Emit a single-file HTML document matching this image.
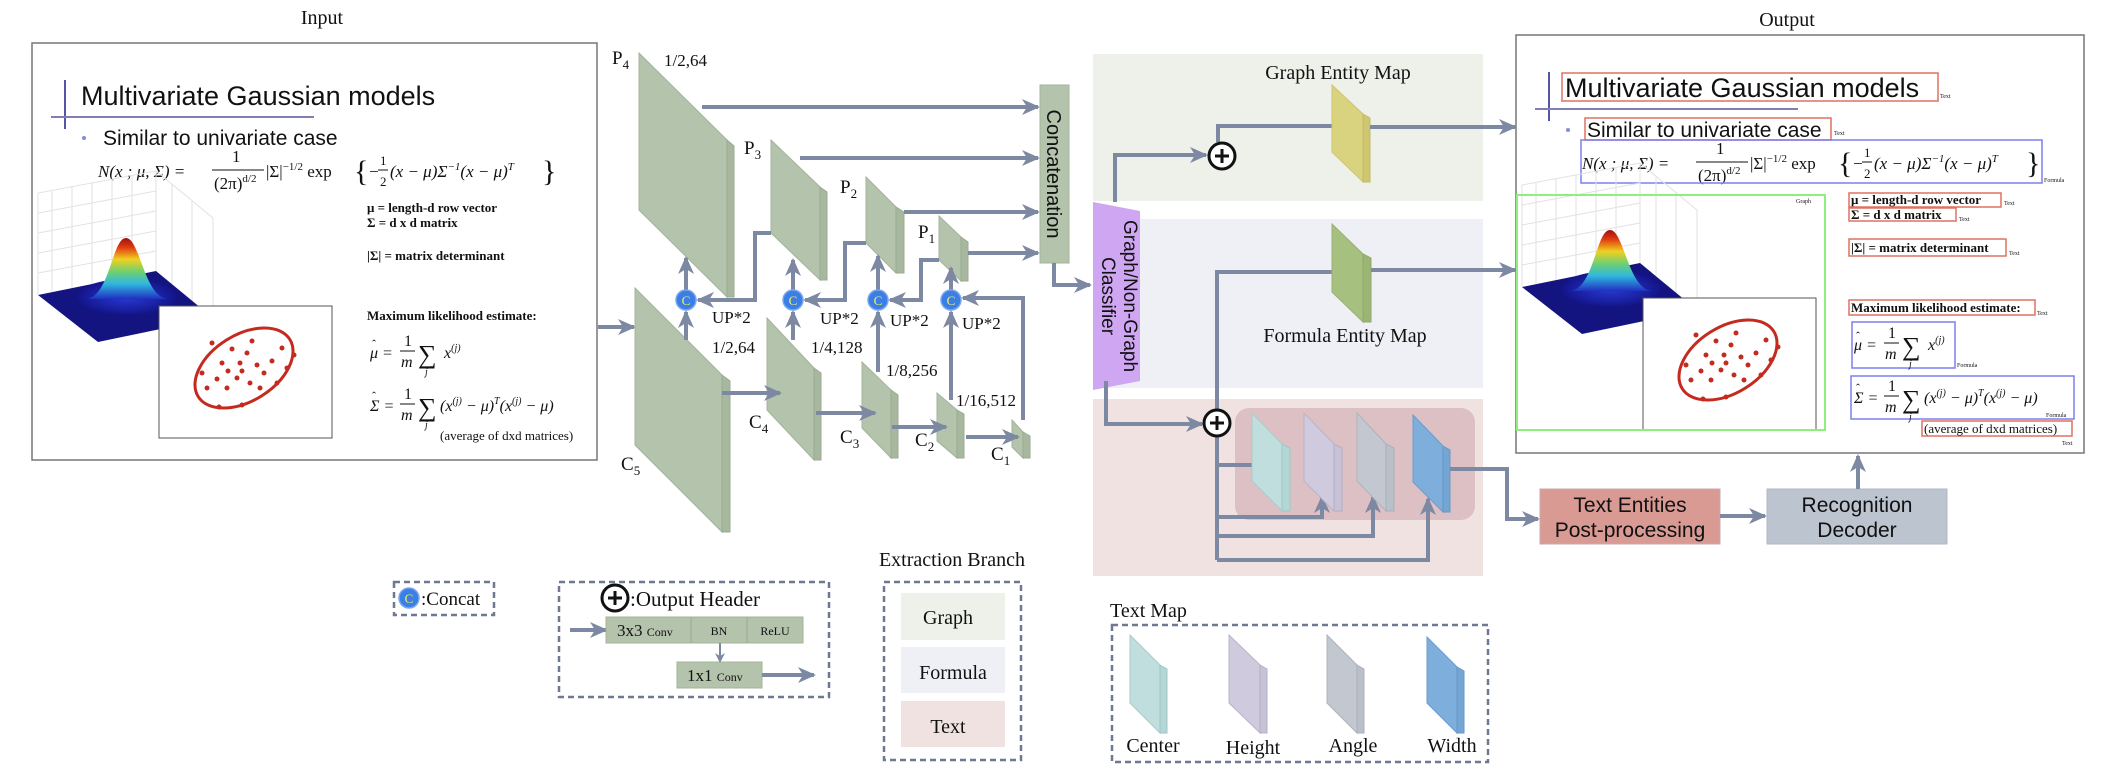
<!DOCTYPE html>
<html><head><meta charset="utf-8"><style>
html,body{margin:0;padding:0;background:#fff;}
svg{display:block;}
.s{font-family:"Liberation Serif",serif;fill:#111;}
.a{font-family:"Liberation Sans",sans-serif;fill:#111;}
.ar{stroke:#7d88a2;stroke-width:4;fill:none;marker-end:url(#ah);}
.ln{stroke:#7d88a2;stroke-width:4;fill:none;}
.fr{fill:#b4c3ab;stroke:#a3b49b;stroke-width:1;}
.sd{fill:#a7b89f;stroke:#98ab90;stroke-width:1;}
</style></head><body>
<svg width="2102" height="776" viewBox="0 0 2102 776" xmlns="http://www.w3.org/2000/svg">
<defs>
<marker id="ah" markerUnits="userSpaceOnUse" markerWidth="18" markerHeight="16" viewBox="0 0 18 16" refX="16" refY="8" orient="auto">
<path d="M0,0 L18,8 L0,16 L5,8 z" fill="#7d88a2"/></marker>
<marker id="ah2" markerUnits="userSpaceOnUse" markerWidth="10" markerHeight="10" viewBox="0 0 10 10" refX="9" refY="5" orient="auto">
<path d="M0,0 L10,5 L0,10 L3,5 z" fill="#7d88a2"/></marker>
<linearGradient id="bell" x1="0" y1="0" x2="0" y2="1">
<stop offset="0" stop-color="#a01010"/><stop offset="0.15" stop-color="#e03a10"/><stop offset="0.35" stop-color="#f0d020"/><stop offset="0.55" stop-color="#70d070"/><stop offset="0.75" stop-color="#30b8e0"/><stop offset="1" stop-color="#2030c0"/></linearGradient>
<radialGradient id="halo"><stop offset="0" stop-color="#2a40e0"/><stop offset="1" stop-color="#14148a"/></radialGradient>
</defs>

<!-- ===== INPUT ===== -->
<text class="s" x="322" y="24" font-size="20" text-anchor="middle">Input</text>
<g transform="translate(32,43)">
<rect x="0" y="0" width="565" height="417" fill="#fff" stroke="#777" stroke-width="1.5"/>
<line x1="33" y1="37" x2="33" y2="86" stroke="#5656a6" stroke-width="2"/>
<line x1="19" y1="74" x2="282" y2="74" stroke="#7f7fb2" stroke-width="2"/>
<text class="a" x="49" y="62" font-size="27">Multivariate Gaussian models</text>
<circle cx="52" cy="95" r="2" fill="#8090d0"/>
<text class="a" x="71" y="102" font-size="21">Similar to univariate case</text>
<g class="s" font-size="17" font-style="italic">
<text x="66" y="134">N(x ; μ, Σ) =</text>
<text x="200" y="119" font-style="normal">1</text>
<line x1="180" y1="127" x2="232" y2="127" stroke="#111"/>
<text x="182" y="146" font-style="normal">(2π)<tspan font-size="11" dy="-7">d/2</tspan></text>
<text x="234" y="134" font-style="normal">|Σ|<tspan font-size="11" dy="-7">−1/2</tspan><tspan dy="7"> exp</tspan></text>
<text x="322" y="138" font-size="30" font-style="normal">{</text>
<text x="336" y="134">−</text>
<text x="348" y="122" font-size="13" font-style="normal">1</text><line x1="346" y1="127" x2="356" y2="127" stroke="#111"/><text x="348" y="143" font-size="13" font-style="normal">2</text>
<text x="358" y="134">(x − μ)Σ<tspan font-size="11" dy="-7">−1</tspan><tspan dy="7">(x − μ)</tspan><tspan font-size="11" dy="-7">T</tspan></text>
<text x="510" y="138" font-size="30" font-style="normal">}</text>
</g>
<g class="s" font-size="13" font-weight="bold">
<text x="335" y="169">μ  = length-d row vector</text>
<text x="335" y="184">Σ = d x d matrix</text>
<text x="335" y="217">|Σ|  = matrix determinant</text>
<text x="335" y="277">Maximum likelihood estimate:</text>
</g>
<g class="s" font-size="16" font-style="italic">
<text x="338" y="315">μ =</text><text x="340" y="305" font-size="12" font-style="normal">ˆ</text>
<text x="372" y="303" font-style="normal">1</text><line x1="368" y1="308" x2="383" y2="308" stroke="#111"/><text x="369" y="324">m</text>
<text x="386" y="320" font-size="26" font-style="normal">∑</text><text x="393" y="332" font-size="10">j</text>
<text x="412" y="315">x<tspan font-size="10" dy="-7">(j)</tspan></text>
<text x="338" y="368">Σ =</text><text x="340" y="357" font-size="12" font-style="normal">ˆ</text>
<text x="372" y="356" font-style="normal">1</text><line x1="368" y1="361" x2="383" y2="361" stroke="#111"/><text x="369" y="377">m</text>
<text x="386" y="373" font-size="26" font-style="normal">∑</text><text x="393" y="385" font-size="10">j</text>
<text x="408" y="368">(x<tspan font-size="10" dy="-7">(j)</tspan><tspan dy="7"> − μ)</tspan><tspan font-size="10" dy="-7">T</tspan><tspan dy="7">(x</tspan><tspan font-size="10" dy="-7">(j)</tspan><tspan dy="7"> − μ)</tspan></text>
</g>
<text class="s" x="408" y="397" font-size="13">(average of dxd matrices)</text>
<g stroke="#e2e2e2" stroke-width="1" fill="none">
<path d="M6,252 L6,150 L124,128 L124,228 M124,128 L181,175 L181,275 M20,249 L20,148 M40,245 L40,144 M60,241 L60,140 M80,237 L80,136 M100,233 L100,132 M6,170 L124,148 M6,190 L124,168 M6,210 L124,188 M6,230 L124,208 M140,141 L140,241 M160,158 L160,258"/>
</g>
<polygon points="6,252 66,299 181,275 124,228" fill="#141480"/>
<ellipse cx="95" cy="254" rx="50" ry="18" fill="url(#halo)" opacity="0.9"/>
<path d="M54,256 C78,254 80,195 94,195 C108,195 112,254 136,256 Z" fill="url(#bell)"/>
<rect x="127" y="263" width="173" height="132" fill="#fff" stroke="#555" stroke-width="1"/>
<g transform="translate(212,325) rotate(-32)">
<ellipse cx="0" cy="0" rx="54" ry="33" fill="none" stroke="#c42a1e" stroke-width="3"/>
</g>
<g fill="#c42a1e">
<circle cx="200" cy="306" r="2.5"/><circle cx="215" cy="310" r="2.5"/><circle cx="190" cy="320" r="2.5"/><circle cx="225" cy="322" r="2.5"/><circle cx="210" cy="328" r="2.5"/><circle cx="205" cy="335" r="2.5"/><circle cx="185" cy="336" r="2.5"/><circle cx="232" cy="330" r="2.5"/><circle cx="240" cy="318" r="2.5"/><circle cx="180" cy="300" r="2.5"/><circle cx="195" cy="345" r="2.5"/><circle cx="175" cy="345" r="2.5"/><circle cx="250" cy="305" r="2.5"/><circle cx="255" cy="325" r="2.5"/><circle cx="220" cy="298" r="2.5"/><circle cx="218" cy="340" r="2.5"/><circle cx="170" cy="330" r="2.5"/><circle cx="228" cy="345" r="2.5"/><circle cx="208" cy="320" r="2.5"/><circle cx="196" cy="328" r="2.5"/><circle cx="245" cy="340" r="2.5"/><circle cx="187" cy="364" r="2.5"/><circle cx="210" cy="362" r="2.5"/><circle cx="262" cy="312" r="2.5"/>
</g>
</g>
<path class="ar" d="M598,327 H634"/>

<!-- ===== FPN slabs ===== -->
<g>
<polygon class="fr" points="639,53 727,140 727,297 639,210"/><polygon class="sd" points="727,140 734,146 734,297 727,297"/>
<polygon class="fr" points="771,140 820,187 820,280 771,233"/><polygon class="sd" points="820,187 827,192 827,280 820,280"/>
<polygon class="fr" points="866,177 896,207 896,273 866,243"/><polygon class="sd" points="896,207 904,212 904,273 896,273"/>
<polygon class="fr" points="939,216 961,237 961,281 939,260"/><polygon class="sd" points="961,237 968,242 968,281 961,281"/>
<polygon class="fr" points="635,288 722,375 722,532 635,445"/><polygon class="sd" points="722,375 730,381 730,532 722,532"/>
<polygon class="fr" points="767,318 814,368 814,460 767,410"/><polygon class="sd" points="814,368 821,373 821,460 814,460"/>
<polygon class="fr" points="862,362 891,390 891,458 862,428"/><polygon class="sd" points="891,390 898,395 898,458 891,458"/>
<polygon class="fr" points="937,393 957,410 957,458 937,441"/><polygon class="sd" points="957,410 964,414 964,458 957,458"/>
<polygon class="fr" points="1012,420 1023,432 1023,458 1012,447"/><polygon class="sd" points="1023,432 1030,436 1030,458 1023,458"/>
</g>
<g class="s" font-size="19">
<text x="612" y="64">P<tspan font-size="13" dy="5">4</tspan></text>
<text x="664" y="66" font-size="17">1/2,64</text>
<text x="744" y="154">P<tspan font-size="13" dy="5">3</tspan></text>
<text x="840" y="193">P<tspan font-size="13" dy="5">2</tspan></text>
<text x="918" y="238">P<tspan font-size="13" dy="5">1</tspan></text>
<text x="621" y="470">C<tspan font-size="13" dy="5">5</tspan></text>
<text x="749" y="428">C<tspan font-size="13" dy="5">4</tspan></text>
<text x="840" y="443">C<tspan font-size="13" dy="5">3</tspan></text>
<text x="915" y="446">C<tspan font-size="13" dy="5">2</tspan></text>
<text x="991" y="460">C<tspan font-size="13" dy="5">1</tspan></text>
</g>
<g class="s" font-size="17">
<text x="712" y="323">UP*2</text><text x="820" y="324">UP*2</text><text x="890" y="326">UP*2</text><text x="962" y="329">UP*2</text>
<text x="712" y="353">1/2,64</text><text x="811" y="353">1/4,128</text><text x="886" y="376">1/8,256</text><text x="956" y="406">1/16,512</text>
</g>
<path class="ar" d="M722,393 H780"/>
<path class="ar" d="M816,413 H875"/>
<path class="ar" d="M892,427 H946"/>
<path class="ar" d="M966,437 H1018"/>
<path class="ar" d="M686,340 V312"/><path class="ar" d="M793,340 V312"/><path class="ar" d="M878,372 V312"/><path class="ar" d="M951,400 V312"/>
<path class="ar" d="M686,290 V258"/><path class="ar" d="M793,290 V260"/><path class="ar" d="M878,290 V256"/><path class="ar" d="M951,290 V268"/>
<path class="ar" d="M771,233 H755 V300 H698"/>
<path class="ar" d="M866,243 H845 V300 H805"/>
<path class="ar" d="M939,260 H921 V300 H890"/>
<path class="ar" d="M1023,420 V298 H963"/>
<path class="ar" d="M702,107 H1038"/><path class="ar" d="M800,158 H1038"/><path class="ar" d="M904,212 H1038"/><path class="ar" d="M968,253 H1038"/>
<g>
<circle cx="686" cy="300" r="10" fill="#3a7fe6" stroke="#7ba6ee" stroke-width="1.5"/><text x="686" y="305" font-family="Liberation Serif,serif" font-size="13" fill="#f5f060" text-anchor="middle">C</text>
<circle cx="793" cy="300" r="10" fill="#3a7fe6" stroke="#7ba6ee" stroke-width="1.5"/><text x="793" y="305" font-family="Liberation Serif,serif" font-size="13" fill="#f5f060" text-anchor="middle">C</text>
<circle cx="878" cy="300" r="10" fill="#3a7fe6" stroke="#7ba6ee" stroke-width="1.5"/><text x="878" y="305" font-family="Liberation Serif,serif" font-size="13" fill="#f5f060" text-anchor="middle">C</text>
<circle cx="951" cy="300" r="10" fill="#3a7fe6" stroke="#7ba6ee" stroke-width="1.5"/><text x="951" y="305" font-family="Liberation Serif,serif" font-size="13" fill="#f5f060" text-anchor="middle">C</text>
</g>
<rect x="1040" y="85" width="29" height="178" fill="#b4c3ab" stroke="#a3b49b"/>
<text class="a" transform="translate(1047,174) rotate(90)" font-size="20" text-anchor="middle" fill="#333">Concatenation</text>
<path class="ar" d="M1054,263 V285 H1090"/>

<!-- ===== branches ===== -->
<rect x="1093" y="54" width="390" height="147" fill="#eef0ea"/>
<rect x="1093" y="219" width="390" height="169" fill="#eff0f6"/>
<rect x="1093" y="399" width="390" height="177" fill="#f1e2e2"/>
<polygon points="1093,202 1140,211 1140,381 1093,390" fill="#cfa6f2"/>
<text class="a" transform="translate(1124,296) rotate(90)" font-size="19" text-anchor="middle" fill="#222">Graph/Non-Graph</text>
<text class="a" transform="translate(1102,296) rotate(90)" font-size="19" text-anchor="middle" fill="#222">Classifier</text>
<path class="ar" d="M1115,202 V155 H1206"/>
<path class="ar" d="M1218,142 V126 H1350"/>
<circle cx="1222" cy="156" r="13" fill="#fff" stroke="#111" stroke-width="3"/>
<path d="M1215,156 H1229 M1222,149 V163" stroke="#111" stroke-width="3"/>
<polygon points="1332,85 1363,114 1363,182 1332,152" fill="#d9d27e" stroke="#cfc56f"/><polygon points="1363,114 1370,118 1370,182 1363,182" fill="#cfc670" stroke="#c4ba66"/>
<text class="s" x="1338" y="79" font-size="20" text-anchor="middle">Graph Entity Map</text>
<path class="ar" d="M1370,127 H1515"/>
<path class="ar" d="M1217,410 V272 H1350"/>
<polygon points="1332,224 1363,254 1363,322 1332,292" fill="#a6c07f" stroke="#97b271"/><polygon points="1363,254 1371,258 1371,322 1363,322" fill="#9bb674" stroke="#8ea869"/>
<text class="s" x="1345" y="342" font-size="20" text-anchor="middle">Formula Entity Map</text>
<path class="ar" d="M1371,270 H1515"/>
<path class="ar" d="M1106,381 V424 H1202"/>
<rect x="1235" y="408" width="240" height="112" rx="14" fill="#dcc0c3"/>
<path class="ln" d="M1217,436 V560"/>
<path class="ar" d="M1217,465 H1270"/>
<path class="ar" d="M1217,517 H1322 V497"/>
<path class="ar" d="M1217,536 H1373 V497"/>
<path class="ar" d="M1217,560 H1428 V499"/>
<polygon points="1252,413 1282,444 1282,511 1252,481" fill="#bfdedd" stroke="#a8cccc"/><polygon points="1282,444 1290,448 1290,511 1282,511" fill="#b3d6d6" stroke="#a0c6c6"/>
<polygon points="1304,413 1334,444 1334,511 1304,481" fill="#cfcade" stroke="#b9b4cc"/><polygon points="1334,444 1342,448 1342,511 1334,511" fill="#c7c2d6" stroke="#b4afc6"/>
<polygon points="1357,413 1386,444 1386,511 1357,481" fill="#c3c8d0" stroke="#adb3bd"/><polygon points="1386,444 1394,448 1394,511 1386,511" fill="#bac0c9" stroke="#a9afba"/>
<polygon points="1413,415 1443,446 1443,512 1413,482" fill="#7eaedb" stroke="#6a9ccd"/><polygon points="1443,446 1450,450 1450,512 1443,512" fill="#75a5d3" stroke="#6597c6"/>
<circle cx="1217" cy="423" r="13" fill="#fff" stroke="#111" stroke-width="3"/>
<path d="M1210,423 H1224 M1217,416 V430" stroke="#111" stroke-width="3"/>
<path class="ar" d="M1450,469 H1507 V519 H1538"/>

<!-- ===== OUTPUT ===== -->
<text class="s" x="1787" y="26" font-size="20" text-anchor="middle">Output</text>
<g transform="translate(1516,35)">
<rect x="0" y="0" width="568" height="418" fill="#fff" stroke="#777" stroke-width="1.5"/>
<line x1="33" y1="37" x2="33" y2="86" stroke="#5656a6" stroke-width="2"/>
<line x1="19" y1="74" x2="282" y2="74" stroke="#7f7fb2" stroke-width="2"/>
<text class="a" x="49" y="62" font-size="27">Multivariate Gaussian models</text>
<rect x="46" y="38" width="376" height="28" fill="none" stroke="#e07060" stroke-width="1.5"/>
<circle cx="52" cy="95" r="2" fill="#8090d0"/>
<text class="a" x="71" y="102" font-size="21">Similar to univariate case</text>
<rect x="69" y="83" width="246" height="22" fill="none" stroke="#e07060" stroke-width="1.5"/>
<g class="s" font-size="17" font-style="italic">
<text x="66" y="134">N(x ; μ, Σ) =</text>
<text x="200" y="119" font-style="normal">1</text>
<line x1="180" y1="127" x2="232" y2="127" stroke="#111"/>
<text x="182" y="146" font-style="normal">(2π)<tspan font-size="11" dy="-7">d/2</tspan></text>
<text x="234" y="134" font-style="normal">|Σ|<tspan font-size="11" dy="-7">−1/2</tspan><tspan dy="7"> exp</tspan></text>
<text x="322" y="138" font-size="30" font-style="normal">{</text>
<text x="336" y="134">−</text>
<text x="348" y="122" font-size="13" font-style="normal">1</text><line x1="346" y1="127" x2="356" y2="127" stroke="#111"/><text x="348" y="143" font-size="13" font-style="normal">2</text>
<text x="358" y="134">(x − μ)Σ<tspan font-size="11" dy="-7">−1</tspan><tspan dy="7">(x − μ)</tspan><tspan font-size="11" dy="-7">T</tspan></text>
<text x="510" y="138" font-size="30" font-style="normal">}</text>
</g>
<rect x="65" y="105" width="461" height="43" fill="none" stroke="#7a80f0" stroke-width="1.5"/>
<g class="s" font-size="13" font-weight="bold">
<text x="335" y="169">μ  = length-d row vector</text>
<text x="335" y="184">Σ = d x d matrix</text>
<text x="335" y="217">|Σ|  = matrix determinant</text>
<text x="335" y="277">Maximum likelihood estimate:</text>
</g>
<g fill="none" stroke="#e07060" stroke-width="1.5">
<rect x="333" y="158" width="152" height="14"/><rect x="333" y="173" width="107" height="13"/><rect x="333" y="204" width="157" height="17"/><rect x="333" y="265" width="186" height="15"/><rect x="406" y="386" width="150" height="15"/>
</g>
<g fill="none" stroke="#7a80f0" stroke-width="1.5">
<rect x="336" y="287" width="103" height="46"/><rect x="335" y="341" width="223" height="43"/>
</g>
<g class="s" font-size="16" font-style="italic">
<text x="338" y="315">μ =</text><text x="340" y="305" font-size="12" font-style="normal">ˆ</text>
<text x="372" y="303" font-style="normal">1</text><line x1="368" y1="308" x2="383" y2="308" stroke="#111"/><text x="369" y="324">m</text>
<text x="386" y="320" font-size="26" font-style="normal">∑</text><text x="393" y="332" font-size="10">j</text>
<text x="412" y="315">x<tspan font-size="10" dy="-7">(j)</tspan></text>
<text x="338" y="368">Σ =</text><text x="340" y="357" font-size="12" font-style="normal">ˆ</text>
<text x="372" y="356" font-style="normal">1</text><line x1="368" y1="361" x2="383" y2="361" stroke="#111"/><text x="369" y="377">m</text>
<text x="386" y="373" font-size="26" font-style="normal">∑</text><text x="393" y="385" font-size="10">j</text>
<text x="408" y="368">(x<tspan font-size="10" dy="-7">(j)</tspan><tspan dy="7"> − μ)</tspan><tspan font-size="10" dy="-7">T</tspan><tspan dy="7">(x</tspan><tspan font-size="10" dy="-7">(j)</tspan><tspan dy="7"> − μ)</tspan></text>
</g>
<text class="s" x="408" y="398" font-size="13">(average of dxd matrices)</text>
<g class="s" font-size="6" fill="#555">
<text x="424" y="63">Text</text><text x="318" y="100">Text</text><text x="528" y="147">Formula</text><text x="280" y="168">Graph</text>
<text x="488" y="170">Text</text><text x="443" y="186">Text</text><text x="493" y="220">Text</text><text x="521" y="280">Text</text>
<text x="441" y="332">Formula</text><text x="530" y="382">Formula</text><text x="546" y="410">Text</text>
</g>
<g stroke="#e2e2e2" stroke-width="1" fill="none">
<path d="M6,252 L6,150 L124,128 L124,228 M124,128 L181,175 L181,275 M20,249 L20,148 M40,245 L40,144 M60,241 L60,140 M80,237 L80,136 M100,233 L100,132 M6,170 L124,148 M6,190 L124,168 M6,210 L124,188 M6,230 L124,208 M140,141 L140,241 M160,158 L160,258"/>
</g>
<polygon points="6,252 66,299 181,275 124,228" fill="#141480"/>
<ellipse cx="95" cy="254" rx="50" ry="18" fill="url(#halo)" opacity="0.9"/>
<path d="M54,256 C78,254 80,195 94,195 C108,195 112,254 136,256 Z" fill="url(#bell)"/>
<rect x="127" y="263" width="173" height="132" fill="#fff" stroke="#555" stroke-width="1"/>
<g transform="translate(212,325) rotate(-32)">
<ellipse cx="0" cy="0" rx="54" ry="33" fill="none" stroke="#c42a1e" stroke-width="3"/>
</g>
<g fill="#c42a1e">
<circle cx="200" cy="306" r="2.5"/><circle cx="215" cy="310" r="2.5"/><circle cx="190" cy="320" r="2.5"/><circle cx="225" cy="322" r="2.5"/><circle cx="210" cy="328" r="2.5"/><circle cx="205" cy="335" r="2.5"/><circle cx="185" cy="336" r="2.5"/><circle cx="232" cy="330" r="2.5"/><circle cx="240" cy="318" r="2.5"/><circle cx="180" cy="300" r="2.5"/><circle cx="195" cy="345" r="2.5"/><circle cx="175" cy="345" r="2.5"/><circle cx="250" cy="305" r="2.5"/><circle cx="255" cy="325" r="2.5"/><circle cx="220" cy="298" r="2.5"/><circle cx="218" cy="340" r="2.5"/><circle cx="170" cy="330" r="2.5"/><circle cx="228" cy="345" r="2.5"/><circle cx="208" cy="320" r="2.5"/><circle cx="196" cy="328" r="2.5"/><circle cx="245" cy="340" r="2.5"/><circle cx="187" cy="364" r="2.5"/><circle cx="210" cy="362" r="2.5"/><circle cx="262" cy="312" r="2.5"/>
</g>
<rect x="1" y="160" width="308" height="235" fill="none" stroke="#90ee80" stroke-width="2"/>
</g>

<rect x="1540" y="489" width="180" height="55" fill="#d99a94" stroke="#c9aaa8"/>
<text class="a" x="1630" y="512" font-size="21" text-anchor="middle">Text Entities</text>
<text class="a" x="1630" y="537" font-size="21" text-anchor="middle">Post-processing</text>
<path class="ar" d="M1720,516 H1765"/>
<rect x="1767" y="489" width="180" height="55" fill="#bcc4d0" stroke="#b0b8c6"/>
<text class="a" x="1857" y="512" font-size="21" text-anchor="middle">Recognition</text>
<text class="a" x="1857" y="537" font-size="21" text-anchor="middle">Decoder</text>
<path class="ar" d="M1858,489 V456"/>

<!-- ===== legends ===== -->
<rect x="394" y="582" width="100" height="33" fill="none" stroke="#6f7890" stroke-width="2.5" stroke-dasharray="6,4"/>
<circle cx="409" cy="598" r="10" fill="#3a7fe6" stroke="#7ba6ee" stroke-width="1.5"/><text x="409" y="603" font-family="Liberation Serif,serif" font-size="13" fill="#f5f060" text-anchor="middle">C</text>
<text class="s" x="421" y="605" font-size="19">:Concat</text>

<rect x="559" y="582" width="270" height="115" fill="none" stroke="#6f7890" stroke-width="2.5" stroke-dasharray="6,4"/>
<circle cx="615" cy="598" r="13" fill="#fff" stroke="#111" stroke-width="3"/>
<path d="M608,598 H622 M615,591 V605" stroke="#111" stroke-width="3"/>
<text class="s" x="630" y="606" font-size="21">:Output Header</text>
<path class="ar" d="M570,630 H606"/>
<rect x="606" y="617" width="197" height="26" fill="#b4c3ab" stroke="#a3b49b"/>
<line x1="691" y1="617" x2="691" y2="643" stroke="#98ab90"/><line x1="747" y1="617" x2="747" y2="643" stroke="#98ab90"/>
<text class="s" x="617" y="636" font-size="17">3x3 <tspan font-size="12">Conv</tspan></text>
<text class="s" x="719" y="635" font-size="12" text-anchor="middle">BN</text>
<text class="s" x="775" y="635" font-size="12" text-anchor="middle">ReLU</text>
<path d="M720,643 V662" stroke="#7d88a2" stroke-width="2" fill="none" marker-end="url(#ah2)"/>
<rect x="677" y="662" width="85" height="26" fill="#b4c3ab" stroke="#a3b49b"/>
<text class="s" x="687" y="681" font-size="17">1x1 <tspan font-size="12">Conv</tspan></text>
<path class="ar" d="M762,675 H814"/>

<text class="s" x="952" y="566" font-size="20" text-anchor="middle">Extraction Branch</text>
<rect x="884" y="582" width="137" height="178" fill="none" stroke="#6f7890" stroke-width="2.5" stroke-dasharray="6,4"/>
<rect x="901" y="593" width="104" height="47" fill="#eef0ea"/>
<rect x="901" y="647" width="104" height="46" fill="#eff0f6"/>
<rect x="901" y="701" width="104" height="46" fill="#f1e2e2"/>
<text class="s" x="948" y="624" font-size="20" text-anchor="middle">Graph</text>
<text class="s" x="953" y="679" font-size="20" text-anchor="middle">Formula</text>
<text class="s" x="948" y="733" font-size="20" text-anchor="middle">Text</text>

<text class="s" x="1110" y="617" font-size="20">Text Map</text>
<rect x="1112" y="625" width="376" height="137" fill="none" stroke="#6f7890" stroke-width="2.5" stroke-dasharray="6,4"/>
<polygon points="1130,635 1160,665 1160,733 1130,703" fill="#bfdedd" stroke="#a8cccc"/><polygon points="1160,665 1167,669 1167,733 1160,733" fill="#b3d6d6" stroke="#a0c6c6"/>
<polygon points="1229,635 1260,665 1260,733 1229,703" fill="#cfcade" stroke="#b9b4cc"/><polygon points="1260,665 1267,669 1267,733 1260,733" fill="#c7c2d6" stroke="#b4afc6"/>
<polygon points="1327,635 1357,665 1357,733 1327,703" fill="#c3c8d0" stroke="#adb3bd"/><polygon points="1357,665 1364,669 1364,733 1357,733" fill="#bac0c9" stroke="#a9afba"/>
<polygon points="1427,637 1457,667 1457,733 1427,703" fill="#7eaedb" stroke="#6a9ccd"/><polygon points="1457,667 1464,671 1464,733 1457,733" fill="#75a5d3" stroke="#6597c6"/>
<g class="s" font-size="20" text-anchor="middle">
<text x="1153" y="752">Center</text><text x="1253" y="754">Height</text><text x="1353" y="752">Angle</text><text x="1452" y="752">Width</text>
</g>
</svg>
</body></html>
